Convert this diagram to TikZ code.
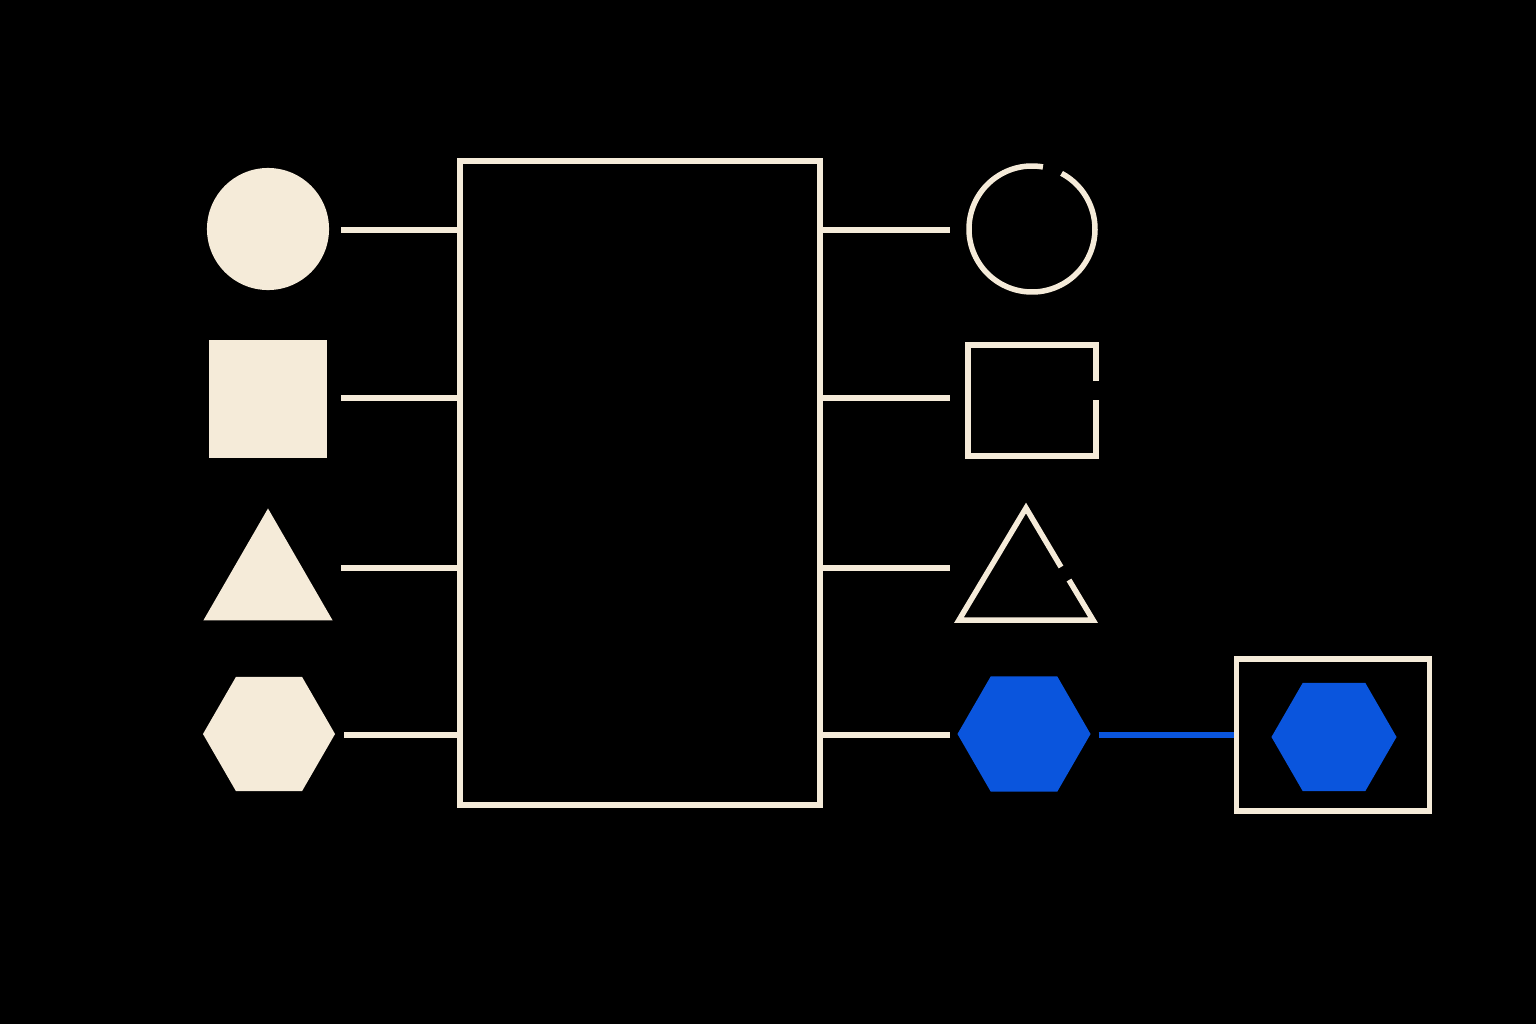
\documentclass[tikz,border=0pt]{standalone}
\usetikzlibrary{positioning, shapes.geometric}
\definecolor{cream}{HTML}{F5EBD9}
\definecolor{hexblue}{HTML}{0A55DD}

\begin{document}
\begin{tikzpicture}[
		x=0.01cm, y=-0.01cm,
		wire/.style={draw=cream, line width=0.055cm},
		solid/.style={fill=cream, inner sep=0pt, outer sep=0pt},
		hex/.style={regular polygon, regular polygon sides=6, inner sep=0pt, outer sep=0pt},
	]
	\fill[black] (0,0) rectangle (1536,1024);

	% central block
	\node[draw=cream, line width=0.055cm, minimum width=3.6cm, minimum height=6.44cm, inner sep=0pt] (block) at (640,483) {};

	% filled shapes on the left
	\node[solid, circle, minimum size=1.22cm] (incirc) at (268,229) {};
	\node[solid, rectangle, minimum size=1.17cm] (insq) at (268,399) {};
	\node[solid, regular polygon, regular polygon sides=3, minimum size=1.49cm] (intri) at (268,583) {};
	\node[solid, hex, minimum size=1.32cm] (inhex) at (269,734) {};

	\coordinate (a1) at (341,230);
	\coordinate (a2) at (341,398);
	\coordinate (a3) at (341,568);
	\coordinate (a4) at (344,735);
	\foreach \i/\y in {1/230, 2/398, 3/568, 4/735}
		\draw[wire] (a\i) -- (block.west |- 0,\y);

	% open shapes on the right
	\draw[wire] (1032,229) ++(-80:63) arc[start angle=-80, end angle=-422, radius=63];
	\draw[wire] (1096,381) -- (1096,345) -- (968,345) -- (968,456) -- (1096,456) -- (1096,400);
	\draw[wire] (1069,580) -- (1093,620) -- (959,620) -- (1026,508) -- (1061,567);
	\node[fill=hexblue, hex, minimum size=1.33cm] (outhex) at (1024,734) {};

	\coordinate (b1) at (950,230);
	\coordinate (b2) at (950,398);
	\coordinate (b3) at (950,568);
	\coordinate (b4) at (950,735);
	\foreach \i/\y in {1/230, 2/398, 3/568, 4/735}
		\draw[wire] (block.east |- 0,\y) -- (b\i);

	% selected output
	\node[draw=cream, line width=0.055cm, minimum width=1.93cm, minimum height=1.52cm, inner sep=0pt] (pick) at (1333,735) {};
	\node[fill=hexblue, hex, minimum size=1.25cm] (pickhex) at (1334,737) {};
	\draw[draw=hexblue, line width=0.055cm] (outhex.east) ++(8,1) -- (pick.west);
\end{tikzpicture}
\end{document}
